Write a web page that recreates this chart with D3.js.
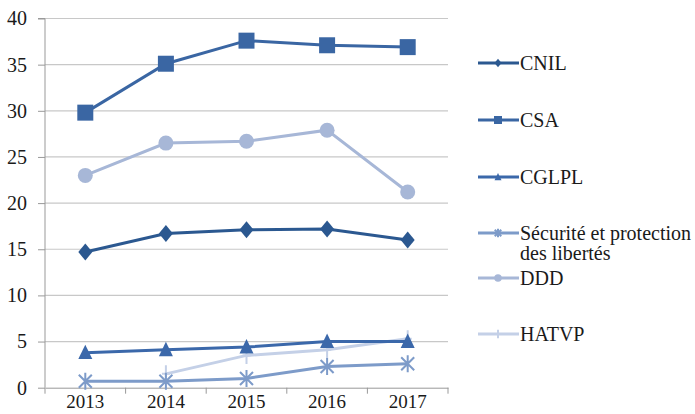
<!DOCTYPE html>
<html>
<head>
<meta charset="utf-8">
<script src="https://cdn.jsdelivr.net/npm/d3@7"></script>
<style>
  body { margin: 0; background: #fff; }
  svg text { font-family: "Liberation Serif", "DejaVu Serif", serif !important; fill: #1a1a1a; }
</style>
</head>
<body>
<div id="chart"></div>
<script>
const years = ["2013", "2014", "2015", "2016", "2017"];
const yTicks = [0, 5, 10, 15, 20, 25, 30, 35, 40];

const cnil = [14.7, 16.7, 17.1, 17.2, 16.0];
const csa = [29.8, 35.1, 37.6, 37.1, 36.9];
const cglpl = [3.8, 4.1, 4.4, 5.0, 5.0];
const securite = [0.7, 0.7, 1.0, 2.3, 2.6];
const ddd = [23.0, 26.5, 26.7, 27.9, 21.2];
const hatvp = [null, 1.5, 3.5, 4.1, 5.3];

const seriesNames = ["CNIL", "CSA", "CGLPL", "Sécurité et protection|des libertés", "DDD", "HATVP"];
const seriesValues = [cnil, csa, cglpl, securite, ddd, hatvp];
const seriesColors = ["#2b5890", "#3a66a3", "#3b68aa", "#7d9bc9", "#a7b7d7", "#c4d0e7"];
const seriesMarkers = ["diamond", "square", "triangle", "star", "circle", "cross"];

const width = 695;
const height = 414;
const margin = { left: 45, right: 247, top: 18.5, bottom: 26.3 };
const serif = "'Liberation Serif', 'DejaVu Serif', serif";

const svg = d3.select("#chart").append("svg")
  .attr("width", width)
  .attr("height", height)
  .attr("font-family", serif);

const x = d3.scaleBand().domain(years).range([margin.left, width - margin.right]);
const y = d3.scaleLinear().domain([0, 40]).range([height - margin.bottom, margin.top]);

// grid
svg.append("g").selectAll("line").data(yTicks.filter((d) => d > 0)).enter().append("line")
  .attr("x1", margin.left)
  .attr("x2", width - margin.right)
  .attr("y1", (d) => y(d))
  .attr("y2", (d) => y(d))
  .style("stroke", "#c8c8c8")
  .style("stroke-width", 1.2);

// y axis
const yAxis = svg.append("g")
  .attr("transform", `translate(${margin.left},0)`)
  .call(d3.axisLeft(y).tickValues(yTicks).tickSize(7).tickPadding(11));
yAxis.attr("font-family", serif).attr("font-size", 20);
yAxis.selectAll("text").attr("fill", "#1a1a1a");
yAxis.selectAll("line, path").style("stroke", "#999");
yAxis.select(".domain").attr("d", `M-7,${y(40)}H0V${y(0)}`);

// x axis
const xAxis = svg.append("g")
  .attr("transform", `translate(0,${y(0)})`)
  .call(d3.axisBottom(x).tickSize(0).tickPadding(7));
xAxis.attr("font-family", serif).attr("font-size", 19);
xAxis.selectAll("text").attr("fill", "#1a1a1a");
xAxis.select(".domain").style("stroke", "#999");
xAxis.append("g").selectAll("line").data(years.concat(["end"])).enter().append("line")
  .attr("x1", (d, i) => margin.left + x.step() * i)
  .attr("x2", (d, i) => margin.left + x.step() * i)
  .attr("y1", 0)
  .attr("y2", 6)
  .style("stroke", "#999");

// marker shapes: s = half width, h = half height
const markerPath = (type, s, h) => {
  if (type === "diamond") return `M0,${-h}L${s},0L0,${h}L${-s},0Z`;
  if (type === "square") return `M${-s},${-h}H${s}V${h}H${-s}Z`;
  if (type === "triangle") return `M0,${-h}L${s},${h * 0.8}H${-s}Z`;
  if (type === "star") return `M${-s},${-s}L${s},${s}M${s},${-s}L${-s},${s}M0,${-h}V${h}`;
  if (type === "cross") return `M0,${-h}V${h}M${-s},0H${s}`;
  return null;
};

const drawMarker = (sel, type, color, s, h) => {
  if (type === "circle") {
    sel.append("circle").attr("r", s).style("fill", color);
  } else if (type === "star" || type === "cross") {
    sel.append("path").attr("d", markerPath(type, s, h)).style("fill", "none").style("stroke", color).style("stroke-width", 2);
  } else {
    sel.append("path").attr("d", markerPath(type, s, h)).style("fill", color);
  }
};

const markerSize = {
  diamond: [7, 8.5],
  square: [8, 8],
  triangle: [7, 8],
  star: [6.5, 8.5],
  circle: [7.5, 7.5],
  cross: [4, 8.5]
};

const line = d3.line()
  .defined((d) => d !== null)
  .x((d, i) => x(years[i]) + x.bandwidth() / 2)
  .y((d) => y(d));

// draw in order so CSA/CNIL sit on top of the light lines
const order = [4, 5, 3, 2, 0, 1];
order.forEach((si) => {
  const vals = seriesValues[si];
  const g = svg.append("g");
  g.append("path")
    .datum(vals)
    .attr("d", line)
    .style("fill", "none")
    .style("stroke", seriesColors[si])
    .style("stroke-width", 3);
  const ms = markerSize[seriesMarkers[si]];
  vals.forEach((v, i) => {
    if (v === null) return;
    const m = g.append("g").attr("transform", `translate(${x(years[i]) + x.bandwidth() / 2},${y(v)})`);
    drawMarker(m, seriesMarkers[si], seriesColors[si], ms[0], ms[1]);
  });
});

// legend
const legendY = [63, 120, 177, 233, 278, 334];
const legend = svg.append("g").attr("font-family", serif).attr("font-size", 20);
seriesNames.forEach((name, i) => {
  const lg = legend.append("g").attr("transform", `translate(478,${legendY[i]})`);
  lg.append("line").attr("x1", 0).attr("x2", 41).attr("y1", 0).attr("y2", 0)
    .style("stroke", seriesColors[i]).style("stroke-width", 3);
  const m = lg.append("g").attr("transform", "translate(20,0)");
  const ms = markerSize[seriesMarkers[i]];
  drawMarker(m, seriesMarkers[i], seriesColors[i], ms[0] / 2, ms[1] / 2);
  const parts = name.split("|");
  const t = lg.append("text").attr("x", 42).attr("y", 6.5);
  parts.forEach((p, k) => {
    t.append("tspan").attr("x", 42).attr("dy", k === 0 ? 0 : 20).text(p);
  });
});
</script>
</body>
</html>
